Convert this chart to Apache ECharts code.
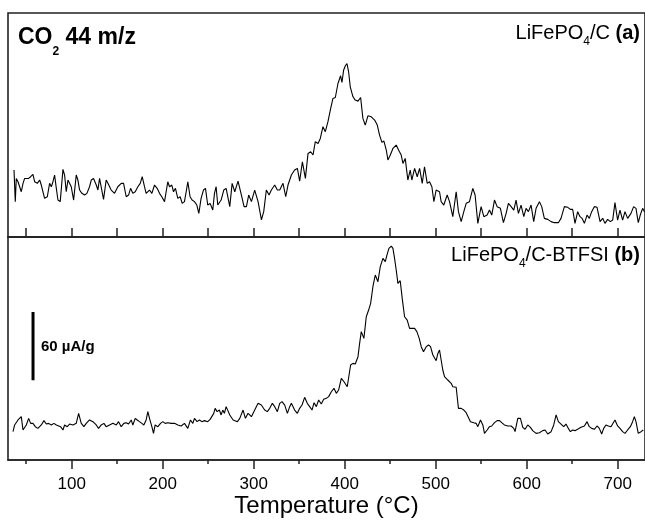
<!DOCTYPE html>
<html>
<head>
<meta charset="utf-8">
<script src="https://cdn.jsdelivr.net/npm/echarts@6/dist/echarts.min.js"></script>
<style>
html,body{margin:0;padding:0;background:#fff;}
#chart{width:645px;height:527px;}
</style>
</head>
<body>
<div id="chart"></div>
<script>
// Temperature axis ticks (°C)
const majorTicks = [100, 200, 300, 400, 500, 600, 700];
const minorTicks = [50, 150, 250, 350, 450, 550, 650];
const allTicks = [50, 100, 150, 200, 250, 300, 350, 400, 450, 500, 550, 600, 650, 700];

// (a) LiFePO4/C : [temperature °C, signal µA/g (offset)]
const curveA = [[36.6,58.9],[38.0,31.1],[39.1,51.5],[41.0,48.6],[42.8,50.1],[44.6,39.8],[46.5,47.2],[48.3,51.5],[50.1,50.7],[52.7,51.5],[54.9,53.0],[57.4,55.1],[59.3,48.6],[62.2,47.2],[64.8,50.1],[66.6,45.7],[70.2,34.0],[73.2,35.4],[75.7,47.2],[77.6,44.2],[79.4,48.6],[81.2,54.5],[83.1,42.8],[84.9,32.5],[87.4,31.1],[90.4,59.5],[92.2,54.5],[94.0,39.8],[95.9,50.1],[97.7,51.5],[99.5,44.2],[102.1,32.5],[105.0,54.5],[106.8,50.1],[108.7,41.3],[111.2,38.4],[114.2,36.9],[116.7,38.4],[119.6,44.2],[121.5,50.1],[124.0,51.5],[127.0,45.7],[128.8,41.3],[130.6,51.5],[132.5,53.0],[135.0,33.1],[137.9,50.1],[139.8,47.2],[143.4,41.3],[147.1,38.4],[150.7,44.2],[154.4,47.2],[157.0,47.2],[159.9,35.4],[162.5,36.9],[164.7,42.8],[167.2,38.4],[169.8,39.8],[172.7,44.2],[175.3,47.2],[177.5,53.0],[180.0,44.2],[181.8,38.4],[185.5,41.3],[188.1,38.4],[191.0,45.7],[193.9,42.8],[196.5,38.4],[199.0,35.4],[202.0,31.1],[205.6,48.6],[207.5,44.2],[210.0,45.7],[211.9,39.8],[214.0,42.8],[216.6,34.0],[219.2,35.4],[221.4,29.6],[223.9,31.1],[225.8,39.8],[227.6,48.6],[230.1,35.4],[232.3,32.5],[234.9,31.1],[237.5,28.1],[239.7,20.8],[242.2,34.0],[244.8,41.3],[247.0,42.8],[249.5,28.1],[252.1,29.6],[255.0,23.7],[256.9,38.4],[258.7,44.2],[260.5,28.1],[264.2,32.5],[267.1,41.3],[269.7,42.8],
[273.7,26.7],[276.3,47.2],[279.2,39.8],[282.8,49.2],[286.5,36.9],[289.4,26.7],[292.0,26.7],[294.5,36.9],[297.5,31.1],[301.1,41.3],[304.8,31.1],[308.5,15.0],[311.0,22.3],[313.9,41.3],[316.9,36.9],[319.4,41.3],[323.1,45.7],[326.0,41.3],[328.6,41.3],[332.2,47.2],[335.2,35.4],[337.7,45.7],[341.4,54.5],[345.0,58.9],[348.0,60.3],[350.5,49.2],[353.5,66.2],[356.8,51.6],[359.7,73.5],[362.6,75.0],[365.2,72.1],[367.7,83.8],[370.7,82.3],[373.2,86.7],[376.1,97.0],[378.7,92.6],[381.6,101.4],[384.6,113.1],[387.1,121.9],[389.7,122.7],[392.6,135.0],[395.5,141.8],[397.0,135.9],[398.8,146.7],[400.7,150.6],[402.5,152.6],[404.3,145.3],[406.1,132.1],[409.1,123.3],[411.6,120.4],[414.6,119.5],[417.5,122.7],[420.0,104.3],[422.6,98.4],[425.5,106.6],[429.2,105.7],[432.9,102.8],[435.8,98.4],[438.3,89.6],[440.9,83.2],[443.1,84.4],[445.7,76.5],[447.5,67.7],[450.1,72.1],[453.0,77.9],[456.6,80.9],[459.2,76.5],[462.1,72.1],[464.0,64.7],[466.5,69.1],[469.4,50.1],[472.0,58.9],[473.8,50.1],[476.8,60.3],[479.7,53.0],[482.3,60.3],[485.2,47.2],[487.7,61.8],[490.7,47.2],[493.2,48.6],[495.8,44.2],[498.0,31.1],[500.5,41.3],[502.4,42.8],[504.2,39.8],
[506.0,31.1],[508.9,28.1],[512.6,36.9],[515.2,31.1],[518.8,17.9],[522.5,39.8],[525.0,22.3],[528.0,13.5],[530.9,22.3],[533.5,29.6],[537.1,31.1],[540.8,42.8],[543.3,36.9],[546.3,12.0],[549.9,26.7],[552.9,17.9],[556.5,19.3],[559.1,23.7],[561.6,19.3],[564.6,32.5],[567.5,26.7],[571.1,25.2],[574.4,12.6],[577.4,20.8],[579.9,29.6],[582.9,26.7],[585.8,23.7],[588.3,32.5],[590.9,20.8],[593.8,28.1],[596.8,17.9],[599.3,25.2],[601.9,22.3],[604.8,28.1],[607.7,13.5],[610.3,25.2],[614.0,31.1],[616.5,26.7],[619.4,16.4],[623.1,15.5],[626.8,13.5],[630.4,12.6],[634.8,12.6],[637.7,16.4],[641.4,26.7],[645.1,26.1],[648.0,24.3],[650.5,24.3],[653.1,12.0],[656.0,22.3],[658.6,17.9],[660.8,16.4],[663.4,12.0],[666.3,19.3],[668.8,16.4],[671.4,22.3],[674.3,26.7],[677.3,26.1],[680.6,13.5],[683.5,16.4],[686.0,12.0],[689.0,15.5],[691.9,13.5],[694.5,14.9],[697.0,30.2],[699.9,14.9],[702.5,23.7],[705.4,14.9],[708.0,22.3],[710.9,16.4],[714.6,20.8],[717.5,26.7],[720.1,25.2],[722.6,12.6],[724.8,19.3],[727.4,25.2],[729.5,22.0]];

// (b) LiFePO4/C-BTFSI : [temperature °C, signal µA/g (offset)]
const curveB = [[35.5,24.9],[37.3,30.8],[39.1,32.2],[41.0,35.2],[42.8,33.7],[44.6,38.1],[46.5,26.4],[48.3,27.8],[50.1,30.8],[52.7,36.6],[54.9,32.2],[57.4,32.2],[60.0,29.3],[62.9,27.8],[66.6,30.8],[69.5,34.6],[72.1,31.6],[74.6,32.2],[77.6,30.8],[80.5,32.2],[83.1,30.8],[84.9,32.2],[87.8,29.3],[90.4,26.4],[92.2,30.8],[95.1,29.3],[97.7,31.6],[101.4,30.8],[105.0,32.2],[107.6,41.0],[110.5,32.2],[113.4,29.3],[116.0,32.2],[119.6,35.2],[123.3,33.7],[127.0,30.8],[129.5,27.8],[132.5,30.8],[135.4,32.2],[137.9,29.3],[141.6,30.8],[145.3,32.2],[148.9,30.8],[151.5,33.7],[154.4,29.3],[157.3,32.2],[159.9,32.8],[162.5,31.6],[165.4,35.2],[167.2,30.8],[169.8,36.6],[172.0,35.2],[174.5,33.7],[177.1,32.2],[179.3,30.8],[181.8,35.2],[183.7,42.5],[185.5,36.6],[188.1,29.3],[189.9,23.4],[191.7,30.8],[194.7,29.3],[197.6,32.2],[200.1,33.7],[202.7,32.2],[205.6,32.8],[209.3,32.2],[213.0,32.2],[216.6,30.8],[220.3,29.9],[223.9,32.2],[227.6,27.8],[230.5,35.2],[233.1,32.2],[234.9,36.6],[237.8,33.7],[240.4,35.2],[243.0,33.7],[245.9,34.6],[249.5,33.7],[252.1,35.7],[253.9,36.6],[256.1,41.0],[257.6,45.4],[259.8,42.5],[262.3,43.9],[264.2,39.6],[266.0,43.9],[267.8,41.0],[269.7,46.9],
[271.1,45.4],[273.7,39.5],[277.4,35.2],[282.1,33.7],[284.7,36.6],[288.3,43.9],[290.9,36.6],[293.8,41.0],[297.5,38.1],[301.1,43.9],[304.8,49.8],[308.4,48.3],[312.1,43.9],[315.0,42.5],[317.6,45.4],[320.5,49.8],[323.1,46.9],[326.0,42.5],[328.6,49.8],[331.1,51.3],[334.1,48.3],[337.0,41.0],[339.6,46.9],[341.4,49.8],[345.0,43.9],[348.0,41.0],[350.5,45.4],[353.1,48.3],[356.0,55.1],[358.9,49.8],[361.5,46.9],[364.1,43.9],[366.3,50.4],[368.8,46.9],[371.4,52.7],[374.3,49.2],[376.9,53.3],[379.8,54.2],[382.4,55.7],[385.3,60.0],[388.2,63.0],[390.8,58.6],[393.3,61.5],[396.3,71.8],[399.2,68.8],[402.8,64.4],[406.5,83.5],[409.1,84.9],[411.6,84.4],[414.6,90.8],[416.4,102.5],[418.2,112.8],[421.1,106.9],[423.7,125.9],[426.3,131.8],[428.5,137.7],[431.0,152.3],[433.6,162.6],[436.5,156.7],[439.1,169.9],[442.0,177.2],[444.6,174.3],[446.4,180.1],[448.6,186.0],[451.2,188.0],[453.0,186.0],[454.8,177.2],[456.6,167.0],[458.5,155.2],[461.0,157.6],[463.2,142.1],[465.8,125.9],[468.7,123.0],[471.3,115.7],[473.8,115.7],[476.8,115.7],[479.3,112.8],[481.9,106.9],[484.1,99.6],[486.6,95.2],[489.6,99.6],[492.1,101.1],[494.3,99.6],[496.9,92.3],[500.5,87.3],[502.4,93.7],[504.2,96.7],
[507.8,79.1],[509.7,73.2],[513.3,70.3],[517.0,67.4],[518.8,64.4],[522.5,63.9],[525.0,45.4],[528.0,45.4],[530.9,43.9],[533.5,41.6],[535.3,40.4],[538.2,33.7],[541.9,32.8],[544.4,32.2],[546.3,29.3],[549.2,35.2],[551.8,30.8],[553.6,23.4],[556.5,26.4],[559.1,29.3],[561.6,29.9],[564.6,32.8],[567.5,34.6],[570.1,34.6],[572.6,32.8],[575.5,30.8],[579.2,29.9],[582.9,29.9],[585.8,27.8],[587.2,24.9],[590.2,36.6],[593.1,36.6],[595.7,28.7],[598.2,27.0],[601.1,30.8],[604.1,28.7],[606.6,25.8],[610.3,23.4],[614.0,24.0],[617.6,25.8],[620.2,26.4],[623.1,22.9],[626.8,24.9],[629.7,30.8],[632.3,39.6],[634.8,33.7],[637.7,31.6],[640.7,29.3],[643.2,31.6],[645.1,28.7],[648.0,24.9],[650.5,26.4],[653.1,25.8],[656.0,27.0],[659.7,28.7],[663.4,29.9],[666.3,33.7],[668.8,29.3],[671.4,27.8],[674.3,27.0],[677.3,29.9],[679.8,27.8],[682.4,22.9],[684.6,27.8],[687.1,30.8],[689.7,29.9],[692.6,29.3],[694.5,28.7],[697.0,35.2],[699.9,29.9],[702.5,27.8],[705.4,24.9],[708.0,23.4],[710.9,26.4],[713.9,29.3],[716.4,33.7],[718.3,38.1],[720.1,33.7],[722.6,23.4],[725.6,24.9],[728.1,26.4]];

// 60 µA/g scale bar: [temperature, signal]
const scaleBar = [[57.5, 70], [57.5, 130]];

const FONT = 'Liberation Sans, Arial, Helvetica, sans-serif';
const frame = '#222';

const chart = echarts.init(document.getElementById('chart'), null, {renderer: 'canvas'});
chart.setOption({
  animation: false,
  backgroundColor: '#fff',
  grid: [
    {left: 8, top: 13, right: -2, height: 224, show: true, borderColor: frame, borderWidth: 1.6, backgroundColor: 'transparent'},
    {left: 8, top: 237, right: -2, height: 223, show: true, borderColor: frame, borderWidth: 1.6, backgroundColor: 'transparent'}
  ],
  xAxis: [
    {type: 'value', gridIndex: 0, min: 30, max: 730, position: 'bottom',
     axisLine: {show: true, lineStyle: {color: frame, width: 1.6}},
     axisTick: {show: true, inside: true, length: 9, customValues: allTicks, lineStyle: {color: frame, width: 1.5}},
     axisLabel: {show: false}, splitLine: {show: false}},
    {type: 'value', gridIndex: 1, min: 30, max: 730, position: 'bottom',
     axisLine: {show: true, lineStyle: {color: frame, width: 1.6}},
     axisTick: {show: true, inside: false, length: 9, customValues: majorTicks, lineStyle: {color: frame, width: 1.5}},
     axisLabel: {show: true, customValues: majorTicks, margin: 16, fontSize: 17, color: '#000', fontFamily: FONT},
     splitLine: {show: false},
     name: 'Temperature (°C)', nameLocation: 'middle', nameGap: 30,
     nameTextStyle: {fontSize: 24, color: '#000', fontFamily: FONT}},
    {type: 'value', gridIndex: 1, min: 30, max: 730, position: 'bottom',
     axisLine: {show: false},
     axisTick: {show: true, inside: false, length: 4, customValues: minorTicks, lineStyle: {color: frame, width: 1.5}},
     axisLabel: {show: false}, splitLine: {show: false}}
  ],
  yAxis: [
    {type: 'value', gridIndex: 0, min: 0, max: 197, show: false},
    {type: 'value', gridIndex: 1, min: 0, max: 196, show: false}
  ],
  series: [
    {type: 'line', xAxisIndex: 0, yAxisIndex: 0, data: curveA, symbol: 'none',
     lineStyle: {color: '#000', width: 1.1}},
    {type: 'line', xAxisIndex: 1, yAxisIndex: 1, data: curveB, symbol: 'none',
     lineStyle: {color: '#000', width: 1.1}},
    {type: 'line', xAxisIndex: 1, yAxisIndex: 1, data: scaleBar, symbol: 'none',
     lineStyle: {color: '#000', width: 3}}
  ],
  graphic: [
    {type: 'text', left: 18, top: 26, z: 10,
     style: {text: '{a|CO}{s|2}{a| 44 m/z}', fill: '#000',
       rich: {a: {fontSize: 23, fontWeight: 'bold', fontFamily: FONT, lineHeight: 41, fill: '#000'},
              s: {fontSize: 12, fontWeight: 'bold', fontFamily: FONT, lineHeight: 12, verticalAlign: 'bottom', fill: '#000'}}}},
    {type: 'text', right: 5, top: 23, z: 10,
     style: {text: '{n|LiFePO}{s|4}{n|/C }{b|(a)}', fill: '#000',
       rich: {n: {fontSize: 20, fontFamily: FONT, lineHeight: 30, fill: '#000'},
              b: {fontSize: 20, fontWeight: 'bold', fontFamily: FONT, lineHeight: 30, fill: '#000'},
              s: {fontSize: 12, fontFamily: FONT, lineHeight: 12, verticalAlign: 'bottom', fill: '#000'}}}},
    {type: 'text', right: 5, top: 245, z: 10,
     style: {text: '{n|LiFePO}{s|4}{n|/C-BTFSI }{b|(b)}', fill: '#000',
       rich: {n: {fontSize: 20, fontFamily: FONT, lineHeight: 30, fill: '#000'},
              b: {fontSize: 20, fontWeight: 'bold', fontFamily: FONT, lineHeight: 30, fill: '#000'},
              s: {fontSize: 12, fontFamily: FONT, lineHeight: 12, verticalAlign: 'bottom', fill: '#000'}}}},
    {type: 'text', left: 41, top: 339, z: 10,
     style: {text: '60 µA/g', fill: '#000', font: 'bold 15px ' + FONT}}
  ]
});
</script>
</body>
</html>
